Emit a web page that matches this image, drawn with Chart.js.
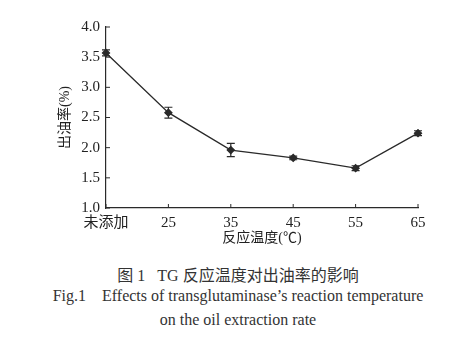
<!DOCTYPE html>
<html>
<head>
<meta charset="utf-8">
<script src="https://cdn.jsdelivr.net/npm/chart.js@4"></script>
<style>
  html, body { margin: 0; padding: 0; background: #fff; }
  #wrap { position: relative; width: 476px; height: 337px; overflow: hidden; }
  #c { position: absolute; left: 0; top: 0; }
  .cap { position: absolute; left: 0; width: 476px; text-align: center; color: #333;
         font-family: "Liberation Serif", "Noto Sans CJK SC", serif; white-space: pre; }
</style>
</head>
<body>
<div id="wrap">
  <canvas id="c" width="476" height="250"></canvas>
  <div class="cap" style="top:262px;font-size:16px;">图 1   TG 反应温度对出油率的影响</div>
  <div class="cap" style="top:287px;font-size:16px;">Fig.1    Effects of transglutaminase’s reaction temperature</div>
  <div class="cap" style="top:311px;font-size:16px;">on the oil extraction rate</div>
</div>
<script>
  // data
  const temps = ['未添加', '25', '35', '45', '55', '65'];
  const oilRate = [3.57, 2.58, 1.96, 1.83, 1.66, 2.24];
  const oilErr = [0.05, 0.09, 0.11, 0.03, 0.04, 0.04];
  const yTicks = [1.0, 1.5, 2.0, 2.5, 3.0, 3.5, 4.0];

  const ink = '#2a2a2a';
  const font = { family: '"Liberation Serif", "Noto Sans CJK SC", serif', size: 15 };

  // error bars + inside tick marks
  const extras = {
    id: 'extras',
    afterDatasetsDraw(chart) {
      const ctx = chart.ctx;
      const x = chart.scales.x, y = chart.scales.y;
      ctx.save();
      ctx.strokeStyle = ink;
      ctx.lineWidth = 1.2;
      oilRate.forEach((v, i) => {
        const px = x.getPixelForValue(i);
        const top = y.getPixelForValue(v + oilErr[i]);
        const bot = y.getPixelForValue(v - oilErr[i]);
        ctx.beginPath();
        ctx.moveTo(px, top); ctx.lineTo(px, bot);
        ctx.moveTo(px - 4, top); ctx.lineTo(px + 4, top);
        ctx.moveTo(px - 4, bot); ctx.lineTo(px + 4, bot);
        ctx.stroke();
      });
      // ticks pointing into the plot
      ctx.lineWidth = 1;
      const base = chart.chartArea.bottom, left = chart.chartArea.left;
      temps.forEach((t, i) => {
        const px = x.getPixelForValue(i);
        ctx.beginPath(); ctx.moveTo(px, base); ctx.lineTo(px, base - 4); ctx.stroke();
      });
      yTicks.forEach(v => {
        const py = y.getPixelForValue(v);
        ctx.beginPath(); ctx.moveTo(left, py); ctx.lineTo(left + 4, py); ctx.stroke();
      });
      ctx.restore();
    }
  };

  new Chart(document.getElementById('c'), {
    type: 'line',
    data: {
      labels: temps,
      datasets: [{
        data: oilRate,
        borderColor: ink,
        borderWidth: 1.3,
        backgroundColor: ink,
        pointStyle: 'rectRot',
        pointRadius: 3.5,
        tension: 0
      }]
    },
    options: {
      responsive: false,
      animation: false,
      layout: { padding: { left: 0, right: 58, top: 27, bottom: 0 } },
      plugins: { legend: { display: false }, tooltip: { enabled: false } },
      scales: {
        x: {
          offset: false,
          grid: { display: false, drawTicks: false },
          border: { display: true, color: ink, width: 1.2 },
          ticks: { color: '#222', font, padding: 6, maxRotation: 0 },
          title: { display: true, text: '反应温度(℃)', color: '#222', font: { ...font, size: 14 }, padding: { top: 0, bottom: 3 } },
          afterFit(s) { s.height = 42; }
        },
        y: {
          min: 1.0, max: 4.0,
          grid: { display: false, drawTicks: false },
          border: { display: true, color: ink, width: 1.2 },
          ticks: {
            color: '#222', font, padding: 6, stepSize: 0.5,
            callback: v => v.toFixed(1)
          },
          title: { display: true, text: '出油率(%)', color: '#222', font: { ...font, size: 14 }, padding: { top: 57, bottom: 0 } },
          afterFit(s) { s.width = 106; }
        }
      }
    },
    plugins: [extras]
  });
</script>
</body>
</html>
